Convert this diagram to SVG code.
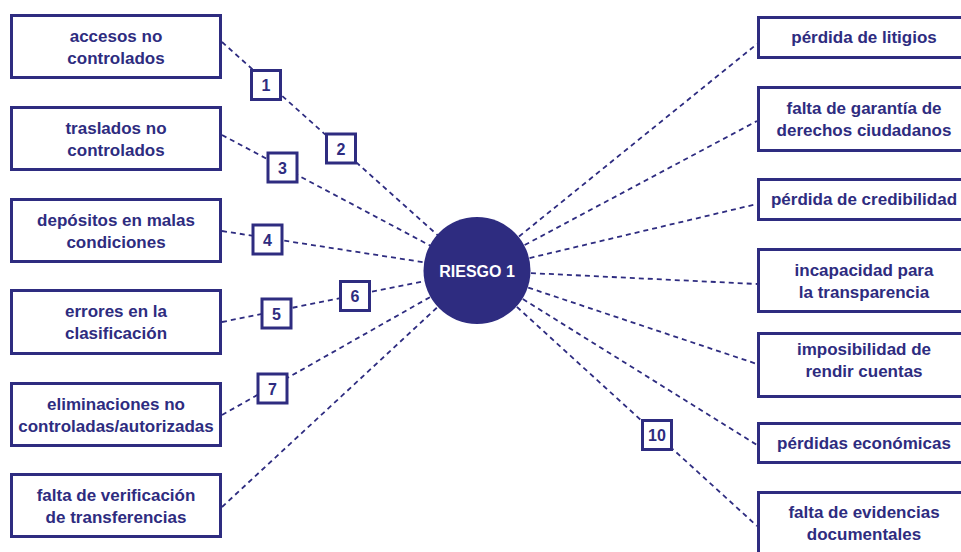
<svg xmlns="http://www.w3.org/2000/svg" width="961" height="552" viewBox="0 0 961 552">
  <style>
    .box { fill: #ffffff; stroke: #2e2c80; stroke-width: 3; }
    .num { fill: #ffffff; stroke: #2e2c80; stroke-width: 3; }
    .lbl { font-family: "Liberation Sans", Arial, sans-serif; font-weight: bold; font-size: 17px; fill: #2e2c80; text-anchor: middle; }
    .nlbl { font-family: "Liberation Sans", Arial, sans-serif; font-weight: bold; font-size: 16px; fill: #2e2c80; text-anchor: middle; }
    .link { stroke: #2e2c80; stroke-width: 1.8; stroke-dasharray: 5 4; fill: none; }
  </style>
  <rect width="961" height="552" fill="#ffffff"/>

  <!-- dashed connectors, all meeting at the centre of the risk circle -->
  <g id="connectors">
    <line class="link" x1="222" y1="42" x2="477" y2="270.5"/>
    <line class="link" x1="222" y1="135" x2="477" y2="270.5"/>
    <line class="link" x1="222" y1="231" x2="477" y2="270.5"/>
    <line class="link" x1="222" y1="322" x2="477" y2="270.5"/>
    <line class="link" x1="222" y1="415" x2="477" y2="270.5"/>
    <line class="link" x1="222" y1="507" x2="477" y2="270.5"/>
    <line class="link" x1="477" y1="270.5" x2="757" y2="44"/>
    <line class="link" x1="477" y1="270.5" x2="757" y2="121"/>
    <line class="link" x1="477" y1="270.5" x2="757" y2="204"/>
    <line class="link" x1="477" y1="270.5" x2="757" y2="284"/>
    <line class="link" x1="477" y1="270.5" x2="757" y2="364"/>
    <line class="link" x1="477" y1="270.5" x2="757" y2="445"/>
    <line class="link" x1="477" y1="270.5" x2="757" y2="526"/>
  </g>

  <!-- central risk -->
  <g id="riesgo">
    <circle cx="477" cy="270.5" r="53.5" fill="#2e2c80"/>
    <text x="477" y="276.5" class="lbl" style="fill:#ffffff;font-size:16px">RIESGO 1</text>
  </g>

  <!-- causes (left) -->
  <g id="c-accesos">
    <rect class="box" x="11.5" y="15.5" width="209" height="62"/>
    <text class="lbl" x="116" y="41.5">accesos no</text>
    <text class="lbl" x="116" y="63.5">controlados</text>
  </g>
  <g id="c-traslados">
    <rect class="box" x="11.5" y="107.5" width="209" height="62"/>
    <text class="lbl" x="116" y="133.5">traslados no</text>
    <text class="lbl" x="116" y="155.5">controlados</text>
  </g>
  <g id="c-depositos">
    <rect class="box" x="11.5" y="199.5" width="209" height="62"/>
    <text class="lbl" x="116" y="225.5">depósitos en malas</text>
    <text class="lbl" x="116" y="247.5">condiciones</text>
  </g>
  <g id="c-errores">
    <rect class="box" x="11.5" y="290.5" width="209" height="63"/>
    <text class="lbl" x="116" y="316.5">errores en la</text>
    <text class="lbl" x="116" y="338.5">clasificación</text>
  </g>
  <g id="c-eliminaciones">
    <rect class="box" x="11.5" y="383.5" width="209" height="62"/>
    <text class="lbl" x="116" y="409.5">eliminaciones no</text>
    <text class="lbl" x="116" y="431.5">controladas/autorizadas</text>
  </g>
  <g id="c-verificacion">
    <rect class="box" x="11.5" y="474.5" width="209" height="62"/>
    <text class="lbl" x="116" y="500.5">falta de verificación</text>
    <text class="lbl" x="116" y="522.5">de transferencias</text>
  </g>

  <!-- consequences (right) -->
  <g id="e-litigios">
    <rect class="box" x="758.5" y="17.5" width="211" height="40"/>
    <text class="lbl" x="864" y="43">pérdida de litigios</text>
  </g>
  <g id="e-garantia">
    <rect class="box" x="758.5" y="87.5" width="211" height="63"/>
    <text class="lbl" x="864" y="113.5">falta de garantía de</text>
    <text class="lbl" x="864" y="135.5">derechos ciudadanos</text>
  </g>
  <g id="e-credibilidad">
    <rect class="box" x="758.5" y="179.5" width="211" height="40"/>
    <text class="lbl" x="864" y="205">pérdida de credibilidad</text>
  </g>
  <g id="e-transparencia">
    <rect class="box" x="758.5" y="249.5" width="211" height="62"/>
    <text class="lbl" x="864" y="275.5">incapacidad para</text>
    <text class="lbl" x="864" y="297.5">la transparencia</text>
  </g>
  <g id="e-cuentas">
    <rect class="box" x="758.5" y="333.5" width="211" height="63"/>
    <text class="lbl" x="864" y="354.5">imposibilidad de</text>
    <text class="lbl" x="864" y="376.5">rendir cuentas</text>
  </g>
  <g id="e-economicas">
    <rect class="box" x="758.5" y="423.5" width="211" height="39"/>
    <text class="lbl" x="864" y="448.5">pérdidas económicas</text>
  </g>
  <g id="e-evidencias">
    <rect class="box" x="758.5" y="492.5" width="211" height="62"/>
    <text class="lbl" x="864" y="518">falta de evidencias</text>
    <text class="lbl" x="864" y="540">documentales</text>
  </g>

  <!-- numbered markers on the connectors -->
  <g id="n1"><rect class="num" x="251.5" y="70.5" width="29" height="29"/><text class="nlbl" x="266" y="91">1</text></g>
  <g id="n2"><rect class="num" x="326.5" y="134" width="29" height="29"/><text class="nlbl" x="341" y="154.5">2</text></g>
  <g id="n3"><rect class="num" x="268" y="153" width="29" height="29"/><text class="nlbl" x="282.5" y="173.5">3</text></g>
  <g id="n4"><rect class="num" x="253" y="225" width="29" height="29"/><text class="nlbl" x="267.5" y="245.5">4</text></g>
  <g id="n5"><rect class="num" x="262" y="299" width="29" height="29"/><text class="nlbl" x="276.5" y="319.5">5</text></g>
  <g id="n6"><rect class="num" x="340.5" y="281.5" width="29" height="29"/><text class="nlbl" x="355" y="302">6</text></g>
  <g id="n7"><rect class="num" x="258" y="374" width="29" height="29"/><text class="nlbl" x="272.5" y="394.5">7</text></g>
  <g id="n10"><rect class="num" x="642.5" y="420.5" width="29" height="29"/><text class="nlbl" x="657" y="441">10</text></g>
</svg>
